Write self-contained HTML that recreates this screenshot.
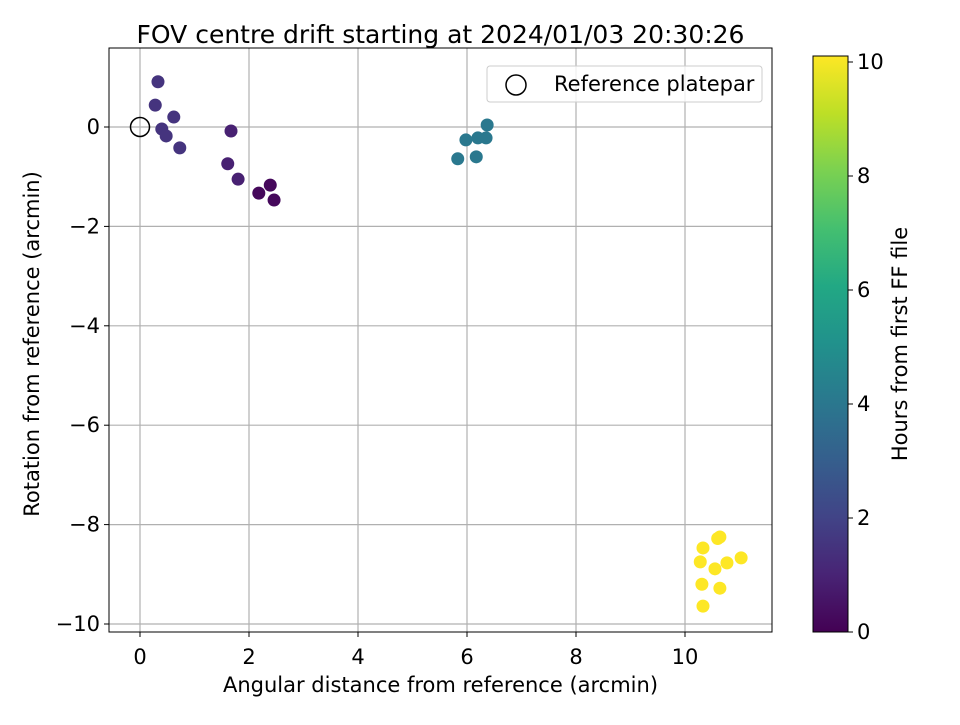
<!DOCTYPE html>
<html><head><meta charset="utf-8"><style>
html,body{margin:0;padding:0;background:#fff;}
svg text{font-family:"DejaVu Sans","Liberation Sans",sans-serif;fill:#000;}
</style></head><body>
<svg id="chart" width="960" height="720" xmlns="http://www.w3.org/2000/svg">
<defs>
<linearGradient id="vir" x1="0" y1="1" x2="0" y2="0">
<stop offset="0" stop-color="#440154"/><stop offset="0.1" stop-color="#482475"/><stop offset="0.2" stop-color="#414487"/><stop offset="0.3" stop-color="#355f8d"/><stop offset="0.4" stop-color="#2a788e"/><stop offset="0.5" stop-color="#21918c"/><stop offset="0.6" stop-color="#22a884"/><stop offset="0.7" stop-color="#44bf70"/><stop offset="0.8" stop-color="#7ad151"/><stop offset="0.9" stop-color="#bddf26"/><stop offset="1" stop-color="#fde725"/>
</linearGradient>
</defs>
<g id="grid"></g>
<g id="points"></g>
<g id="axes"></g>
</svg>
<script>
const xValues=[0.33,0.28,0.62,0.40,0.48,0.73,1.67,1.61,1.80,2.18,2.39,2.46,6.37,6.35,6.20,5.98,5.83,6.17,10.64,10.60,10.33,10.28,11.03,10.77,10.55,10.31,10.64,10.33];
const yValues=[0.91,0.44,0.20,-0.04,-0.18,-0.42,-0.08,-0.74,-1.05,-1.33,-1.17,-1.47,0.04,-0.22,-0.22,-0.26,-0.64,-0.60,-8.25,-8.28,-8.47,-8.75,-8.67,-8.77,-8.89,-9.20,-9.28,-9.64];
const hours=[1.5,1.5,1.5,1.5,1.5,1.5,0.9,0.9,0.9,0.2,0.2,0.2,4,4,4,4,4,4,10,10,10,10,10,10,10,10,10,10];
const xTicks=[0,2,4,6,8,10];
const yTicks=[0,-2,-4,-6,-8,-10];
const cTicks=[0,2,4,6,8,10];

const L=109,R=772,T=48,B=632;
const X=v=>140+v*54.5, Y=v=>127-v*49.7;
const C=v=>632-v*57;
const NS="http://www.w3.org/2000/svg";
function mk(tag,at,parent,txt){const e=document.createElementNS(NS,tag);for(const k in at)e.setAttribute(k,at[k]);if(txt!==undefined)e.textContent=txt;parent.appendChild(e);return e;}
const stops=[[68,1,84],[72,36,117],[65,68,135],[53,95,141],[42,120,142],[33,145,140],[34,168,132],[68,191,112],[122,209,81],[189,223,38],[253,231,37]];
function vir(h){let t=Math.max(0,Math.min(1,h/10))*10;let i=Math.min(9,Math.floor(t));let f=t-i;const a=stops[i],b=stops[i+1];return `rgb(${a.map((c,k)=>Math.round(c+(b[k]-c)*f)).join(',')})`;}
const grid=document.getElementById('grid'),pts=document.getElementById('points'),ax=document.getElementById('axes');
xTicks.forEach(v=>{
 const g=mk('line',{x1:X(v),x2:X(v),y1:T,y2:B,stroke:'#b0b0b0','stroke-width':1.2},grid);
 
 const t=mk('line',{x1:X(v),x2:X(v),y1:B,y2:B+5,stroke:'#000'},ax);
 
 const l=mk('text',{x:X(v),y:B+32,'text-anchor':'middle','font-size':21},ax,String(v));
 
});
yTicks.forEach(v=>{
 const g=mk('line',{x1:L,x2:R,y1:Y(v),y2:Y(v),stroke:'#b0b0b0','stroke-width':1.2},grid);
 
 const t=mk('line',{x1:L-5,x2:L,y1:Y(v),y2:Y(v),stroke:'#000'},ax);
 
 const l=mk('text',{x:L-9,y:Y(v)+7,'text-anchor':'end','font-size':21},ax,String(v).replace('-','\u2212'));
 
});
xValues.forEach((x,i)=>{
 const c=mk('circle',{cx:X(x),cy:Y(yValues[i]),r:6.5,fill:vir(hours[i])},pts);
 
});
const ref=mk('circle',{cx:X(0),cy:Y(0),r:9.5,fill:'none',stroke:'#000','stroke-width':1.5},pts);

const fr=mk('rect',{x:L,y:T,width:R-L,height:B-T,fill:'none',stroke:'#000','stroke-width':1},ax);

const tt=mk('text',{x:(L+R)/2,y:43,'text-anchor':'middle','font-size':25},ax,'FOV centre drift starting at 2024/01/03 20:30:26');

const xt=mk('text',{x:(L+R)/2,y:692,'text-anchor':'middle','font-size':21},ax,'Angular distance from reference (arcmin)');

const yt=mk('text',{x:39,y:(T+B)/2+4,'text-anchor':'middle','font-size':21,transform:`rotate(-90 39 ${(T+B)/2+4})`},ax,'Rotation from reference (arcmin)');

const lg=mk('g',{},ax);

mk('rect',{x:487,y:66,width:275,height:36,rx:3,fill:'#fff','fill-opacity':0.8,stroke:'#ccc'},lg);
const lm=mk('circle',{cx:516,cy:85,r:10,fill:'none',stroke:'#000','stroke-width':1.5},lg);

const lt=mk('text',{x:554,y:91,'font-size':21},lg,'Reference platepar');

const cb=mk('rect',{x:813,y:56,width:35,height:576,fill:'url(#vir)',stroke:'#000','stroke-width':1},ax);

cTicks.forEach(v=>{
 const t=mk('line',{x1:848,x2:853,y1:C(v),y2:C(v),stroke:'#000'},ax);
 
 const l=mk('text',{x:857,y:C(v)+7,'font-size':21},ax,String(v));
 
});
const ct=mk('text',{x:907,y:344,'text-anchor':'middle','font-size':21,transform:'rotate(-90 907 344)'},ax,'Hours from first FF file');

</script>
</body></html>
